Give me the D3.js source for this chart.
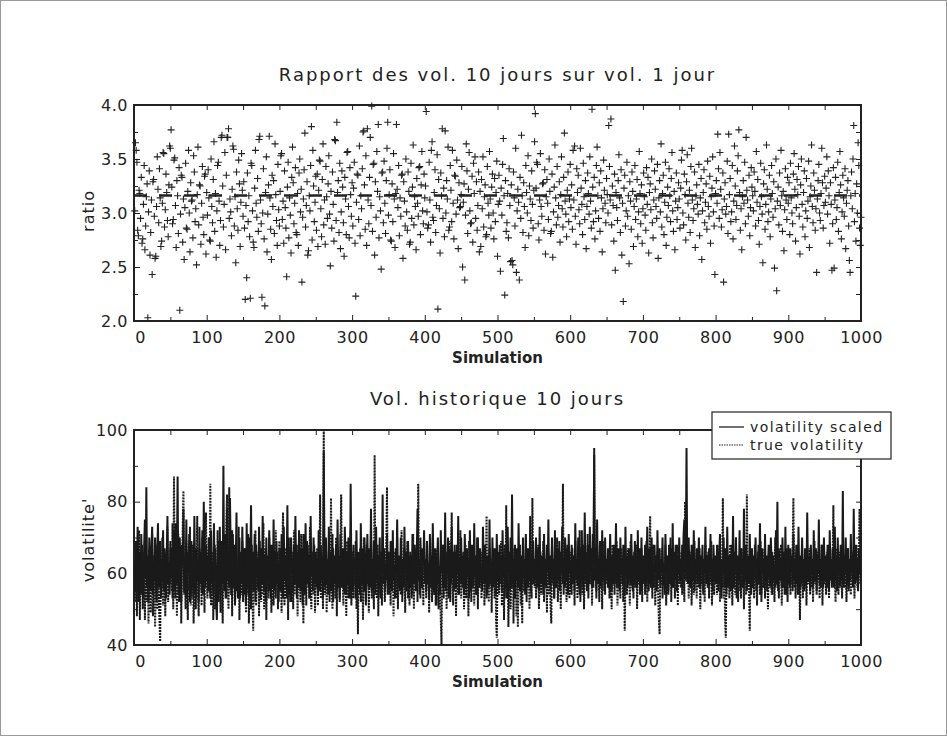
<!DOCTYPE html>
<html><head><meta charset="utf-8">
<script src="https://cdn.jsdelivr.net/npm/d3@7/dist/d3.min.js"></script>
<style>body{margin:0;background:#fff} text{font-family:"DejaVu Sans",sans-serif;fill:#222}</style>
</head><body><svg id="c" width="947" height="736"></svg>
<script>
const ratio = [
3.02,3.65,3.58,3.47,2.84,2.79,3.21,3.18,2.95,3.33,2.72,2.76,3.08,3.44,2.66,2.88,3.15,3.27,2.03,3.01,3.39,2.61,2.82,3.12,2.43,3.29,3.31,2.97,2.58,2.60,3.06,3.52,3.22,2.91,3.41,3.14,2.69,2.74,3.09,3.56,3.55,2.87,3.03,3.36,3.19,2.93,2.78,3.26,3.62,3.60,
3.77,3.24,2.90,2.94,3.49,3.51,3.07,2.68,3.30,3.16,2.81,3.42,2.10,2.99,3.35,3.33,2.73,3.13,2.57,3.05,3.46,2.86,2.85,3.20,3.58,3.00,2.64,3.28,3.11,3.12,2.77,3.53,3.38,2.92,3.04,2.52,3.17,3.61,2.89,3.26,3.25,2.71,3.09,3.43,2.96,2.80,3.34,3.36,2.62,3.19,
2.98,3.40,3.14,2.75,2.74,3.50,3.06,2.91,3.31,3.66,2.83,3.18,2.59,3.02,3.44,3.47,3.11,2.70,2.93,3.70,3.72,3.25,2.87,3.08,3.56,2.66,3.35,3.70,3.70,3.78,2.95,3.13,3.01,2.79,3.22,3.62,3.59,2.88,3.15,2.54,3.38,3.04,2.84,3.49,3.27,2.69,3.10,3.55,3.21,2.97,
3.29,2.86,2.20,3.07,2.40,3.37,2.92,3.16,2.78,2.21,3.46,3.44,3.02,2.73,2.68,3.23,3.58,3.09,2.96,3.32,2.83,3.68,3.71,3.12,2.90,2.22,3.00,3.41,2.76,2.14,3.19,3.52,2.64,2.99,3.26,3.71,3.14,2.85,2.57,3.35,3.06,3.30,2.81,3.64,3.17,2.93,2.70,3.45,3.03,2.88,
3.20,3.53,3.55,2.94,3.11,2.72,3.39,3.05,2.86,2.41,3.24,3.47,2.77,3.14,2.98,2.63,3.33,3.61,3.28,2.90,3.09,3.42,2.82,2.80,3.18,2.70,3.37,3.50,3.01,3.22,2.36,2.96,3.13,3.40,3.74,2.87,3.07,3.29,2.61,2.65,3.16,3.02,3.44,3.80,2.75,3.58,3.25,2.92,3.10,3.34,
2.84,3.36,2.69,3.21,3.49,3.48,3.04,2.78,3.31,3.64,2.89,3.12,2.71,3.43,3.15,2.95,3.27,3.53,2.99,2.51,3.20,2.86,3.38,3.08,2.74,3.68,3.67,2.93,3.84,3.19,3.30,2.82,3.46,2.67,3.01,3.39,3.24,2.91,2.60,3.33,3.13,2.80,3.56,3.57,3.06,2.77,3.42,3.17,2.97,3.28,
2.88,3.23,3.47,2.72,2.23,3.10,3.36,3.35,2.94,3.62,2.79,3.16,3.04,3.41,3.75,3.76,3.26,2.85,3.53,2.70,3.78,3.12,2.90,3.33,3.70,3.07,3.99,2.83,3.45,3.46,2.61,3.29,2.96,3.57,3.20,3.82,2.77,3.15,3.02,2.48,3.37,3.38,2.91,3.48,3.09,2.81,3.30,3.60,3.84,2.98,
3.17,3.40,2.75,2.74,3.27,2.92,3.55,3.13,2.68,3.18,3.82,3.22,3.05,3.44,2.79,3.14,2.97,3.35,3.36,2.58,3.29,3.11,2.88,3.50,3.01,2.84,3.38,3.20,2.71,2.73,3.46,2.95,3.24,3.63,2.89,3.15,3.06,2.66,3.32,3.09,2.97,3.42,3.43,2.80,3.26,3.57,3.02,2.90,3.36,3.14,
3.25,3.94,3.01,2.86,2.89,3.47,3.12,2.73,3.58,3.66,2.96,2.93,3.19,3.40,2.82,3.07,3.54,2.11,3.31,3.04,2.63,3.37,3.16,3.78,2.95,3.23,2.78,3.76,3.00,3.30,3.13,3.61,2.84,2.87,3.44,3.21,2.92,3.58,3.09,2.76,3.35,3.34,2.99,3.49,3.12,2.67,3.28,3.05,3.06,3.17,
3.43,2.50,3.10,3.27,2.38,2.98,3.64,3.39,2.81,3.22,3.56,3.02,2.90,2.91,3.34,2.73,3.46,3.18,3.52,2.95,3.29,2.84,3.07,3.38,2.64,3.20,2.69,3.31,3.04,3.52,2.87,3.15,3.26,2.78,2.80,3.43,3.09,2.98,3.57,3.13,2.86,3.24,3.36,3.00,2.76,3.32,2.92,3.19,3.48,2.60,
3.08,3.35,3.11,2.46,3.23,2.98,3.45,3.69,3.16,2.24,3.30,2.83,2.91,3.18,2.77,3.41,3.07,2.55,3.26,2.56,2.52,3.38,3.14,2.88,3.60,2.45,3.02,3.22,3.10,2.38,3.33,2.95,3.72,3.16,2.82,3.28,3.06,2.68,3.44,3.19,3.00,3.53,2.79,3.25,3.13,2.93,3.39,3.08,2.86,3.21,
3.66,3.92,3.23,3.47,3.45,2.90,2.75,3.12,3.55,3.06,2.97,3.27,3.28,2.84,3.40,2.62,3.15,3.31,3.09,2.94,3.50,3.20,2.81,2.83,3.36,2.59,3.01,3.24,3.63,3.14,2.89,3.43,2.96,3.07,3.29,2.73,3.17,3.52,3.04,2.87,3.33,3.74,3.11,2.99,2.78,3.21,3.38,2.92,3.13,3.45,
3.05,3.26,2.85,3.58,3.12,3.62,2.97,2.71,3.41,3.19,3.35,3.03,2.90,3.60,3.23,3.08,2.80,3.46,3.15,2.94,3.30,2.67,3.06,3.37,3.18,2.99,3.52,3.11,2.86,3.96,3.24,2.92,3.33,2.76,3.02,3.44,3.61,3.16,2.95,3.28,2.83,3.39,3.14,2.64,3.04,3.49,3.21,3.09,2.91,3.32,
3.17,3.00,3.81,3.43,3.12,3.87,2.89,3.25,3.07,2.74,3.36,2.47,3.19,3.05,2.93,3.30,3.54,3.14,2.82,3.40,2.61,3.09,2.18,3.23,3.35,2.88,3.02,3.47,2.97,3.16,2.53,3.29,3.11,2.85,3.38,3.20,2.69,3.06,3.44,2.94,3.13,3.31,2.78,3.01,3.57,3.18,2.90,3.26,2.72,3.04,
3.37,3.15,2.98,2.84,3.42,3.08,3.33,2.63,3.19,3.27,3.03,3.50,2.91,2.77,3.12,3.39,3.22,3.06,2.95,3.45,2.58,3.14,3.30,3.01,3.64,2.87,3.18,3.35,2.80,3.10,3.47,2.70,2.96,3.24,3.07,3.41,3.16,2.92,3.32,3.56,3.02,2.83,3.20,2.66,3.11,3.37,2.94,3.05,3.28,3.13,
2.86,3.23,3.49,3.58,3.00,2.89,3.36,3.17,2.75,3.29,3.54,3.09,2.96,3.21,2.82,3.43,3.60,3.12,2.93,3.04,3.38,2.68,3.16,3.26,3.08,2.99,3.45,2.79,3.14,3.32,2.57,3.02,3.19,3.40,2.91,3.10,3.27,2.85,3.48,3.06,2.97,3.34,2.72,3.15,3.23,3.52,3.01,2.88,2.43,3.18,
3.30,3.09,3.73,3.41,2.95,3.56,3.22,2.87,3.03,3.37,2.36,3.13,3.28,2.99,3.06,3.48,2.81,3.73,3.17,3.32,2.92,3.01,3.44,2.76,3.11,3.62,3.25,2.94,3.07,3.39,3.53,3.77,3.19,2.84,3.04,2.66,3.15,3.30,3.09,3.47,2.90,3.70,3.21,3.12,2.97,3.35,2.79,3.05,3.42,3.24,
3.16,3.02,3.38,3.20,2.88,3.57,3.10,3.31,2.93,2.71,3.06,3.46,3.15,2.99,2.54,3.27,3.40,2.85,3.08,3.63,3.22,2.92,3.01,3.35,2.78,3.13,3.44,3.18,2.96,3.29,2.49,3.04,3.50,2.28,3.11,3.24,2.89,3.37,3.07,3.58,3.16,2.83,3.20,2.65,3.03,3.41,3.12,2.94,3.33,3.09,
3.28,2.80,3.46,3.14,3.00,2.90,3.36,3.55,3.22,2.74,3.05,3.31,3.17,3.43,2.97,2.62,3.26,3.50,3.08,2.87,3.19,3.39,2.78,3.02,3.32,2.95,3.11,3.48,2.68,3.15,3.25,3.63,3.06,2.91,3.37,3.21,2.84,3.04,2.45,3.13,3.30,3.45,3.00,2.93,3.18,3.60,3.28,2.86,3.07,3.34,
3.10,3.23,3.52,2.99,3.39,3.16,2.72,3.28,3.08,2.47,2.90,3.42,2.49,3.12,3.33,2.94,3.05,3.47,2.83,3.19,3.57,3.26,2.76,3.01,3.35,3.14,2.97,3.41,2.67,3.09,3.21,3.30,2.88,2.56,2.45,3.16,3.38,3.04,3.50,3.81,2.92,3.18,2.74,3.27,3.00,3.65,3.44,2.86,2.70,2.96
];
const volScaled = [
62,55,69,58,73,52,66,60,54,71,57,64,53,68,75,59,84,56,65,52,70,61,55,67,73,54,63,58,70,57,52,66,74,56,62,69,53,64,58,72,55,67,60,53,65,76,57,63,54,69,
59,67,53,72,60,55,74,57,65,87,54,61,70,56,52,68,62,78,55,64,58,75,53,66,60,71,52,63,69,56,62,54,76,61,53,67,58,64,52,73,59,66,55,72,54,80,61,56,68,58,
65,55,70,59,53,72,57,63,54,74,58,67,52,47,61,69,56,73,54,62,66,57,90,55,71,60,53,78,58,64,56,81,67,54,72,59,56,68,52,64,77,55,62,58,70,53,66,57,73,60,
54,67,59,51,74,56,63,70,53,62,79,57,66,55,60,71,52,68,59,64,55,73,61,53,67,57,76,60,55,65,52,70,58,62,55,72,64,53,68,60,56,75,58,66,53,69,57,63,52,67,
60,55,71,63,53,73,58,65,56,62,79,54,67,59,52,70,60,64,55,68,57,76,62,53,66,56,72,60,55,67,58,51,71,63,54,74,57,62,68,56,65,53,76,59,63,55,70,60,57,66,
56,64,54,72,60,55,68,58,65,53,94,61,56,70,57,64,54,73,59,66,55,62,71,52,65,58,57,68,55,75,60,64,53,71,58,56,67,62,55,73,63,54,66,57,70,60,53,85,61,58,
55,68,60,64,53,72,58,56,66,62,54,74,57,67,60,55,70,63,52,62,71,59,56,67,60,78,55,64,57,69,62,54,73,58,65,56,62,70,53,64,60,82,57,67,55,63,58,71,54,66,
60,56,69,63,55,72,58,62,53,67,60,75,56,65,59,55,70,62,54,64,57,73,60,66,55,62,69,58,56,65,63,53,71,60,57,68,62,55,66,78,58,64,54,70,60,56,67,62,72,57,
64,55,69,58,62,53,71,60,65,56,74,62,55,67,59,51,64,70,57,62,54,72,60,65,56,68,58,77,55,64,60,70,53,62,67,57,73,59,64,55,68,62,56,66,60,76,54,63,58,70,
57,65,60,54,71,62,56,67,59,63,53,72,60,55,68,62,57,74,59,65,54,63,70,60,56,67,58,62,55,73,64,57,68,60,53,65,62,56,75,59,63,55,70,60,57,67,62,54,71,58,
62,56,68,60,65,55,72,59,64,53,67,62,56,73,60,65,55,70,58,82,57,64,54,68,62,58,67,56,74,60,55,65,62,57,70,59,64,54,71,60,56,67,62,58,76,55,65,60,69,57,
64,58,70,56,62,67,55,73,60,57,65,62,54,71,59,64,56,68,60,75,57,65,55,62,70,58,64,53,72,60,56,67,62,58,69,55,65,60,73,57,64,56,70,62,58,67,54,71,60,63,
56,68,62,58,65,55,74,60,64,57,70,59,54,67,62,72,56,65,60,77,58,64,55,68,62,57,73,60,66,56,71,62,93,58,67,55,75,60,64,57,69,62,56,72,59,65,55,70,60,64,
58,67,56,62,71,60,55,65,58,68,57,63,74,56,62,67,58,55,70,60,64,57,68,62,54,73,59,65,56,62,67,60,57,71,62,55,65,58,69,60,64,56,72,58,62,67,55,70,60,57,
65,58,68,56,62,73,60,55,67,64,57,70,58,62,56,68,60,65,55,72,62,58,67,56,64,60,70,57,62,54,71,60,65,58,55,68,62,57,67,60,74,56,64,58,68,62,55,65,60,70,
58,64,56,68,62,71,75,60,65,95,62,57,70,60,65,56,68,62,58,72,55,64,60,67,57,62,70,58,56,65,62,68,55,64,60,73,57,65,62,56,67,60,71,58,64,55,68,62,58,65,
57,68,62,55,65,71,59,53,64,60,70,56,62,67,54,73,60,57,65,62,55,68,59,76,56,64,60,70,53,65,62,58,72,55,67,60,64,56,78,58,62,68,55,65,60,57,71,62,54,67,
60,56,65,62,70,55,64,58,68,57,74,62,54,67,60,64,56,71,58,65,55,62,68,60,57,70,63,54,65,58,62,56,72,60,80,55,67,62,58,64,56,70,60,65,54,73,58,64,57,68,
62,56,67,60,65,55,71,58,64,57,68,62,54,73,60,65,56,62,70,58,64,55,67,60,57,77,62,58,65,55,68,60,64,56,72,58,62,67,55,65,60,75,57,64,58,68,62,56,70,60,
58,65,56,68,62,55,72,60,64,57,67,62,56,73,58,65,55,70,60,64,57,68,62,58,83,56,65,60,70,57,62,67,55,64,58,71,60,65,56,78,62,57,68,58,64,55,67,60,65,58
];
const trueVol = [
61,52,69,48,65,55,72,47,63,54,68,50,58,66,47,70,57,52,64,46,67,55,49,62,71,48,54,65,45,58,68,50,61,53,47,41,64,56,70,51,59,66,48,62,55,73,52,60,57,67,
64,55,74,50,87,58,53,68,48,62,71,52,57,66,46,61,72,83,54,60,50,69,57,47,64,55,73,51,62,53,68,46,59,66,50,63,76,54,48,67,57,62,51,70,56,60,49,68,77,58,
53,63,70,55,85,51,60,66,47,58,68,50,62,55,72,52,59,65,49,69,56,46,63,60,67,53,75,82,57,50,84,62,54,66,48,71,56,60,51,68,57,63,53,73,47,60,65,54,69,52,
60,55,67,49,63,54,71,46,59,65,50,68,53,44,62,57,72,51,63,56,66,48,69,58,52,62,54,74,50,60,67,47,58,65,53,70,56,62,49,68,59,51,63,55,72,57,66,50,60,69,
55,64,49,68,77,57,51,62,67,53,60,47,70,56,63,52,66,59,50,72,54,62,57,68,48,64,56,60,52,71,58,63,46,67,55,60,51,69,57,63,53,73,56,50,66,60,54,68,49,62,
57,67,51,62,56,82,53,64,60,50,100,58,54,68,49,63,57,66,52,60,81,56,50,67,59,63,53,70,48,62,56,65,52,68,82,57,60,51,66,54,62,48,69,58,53,63,56,72,51,60,
66,53,62,57,69,50,60,43,64,56,67,52,59,63,47,70,55,60,51,68,57,63,49,66,56,72,53,62,58,50,93,56,64,53,68,48,60,63,54,66,51,70,57,62,52,59,67,84,56,63,
54,62,51,68,58,63,48,66,56,60,53,70,50,62,57,64,54,72,52,60,56,67,49,63,58,69,53,60,51,66,57,62,54,71,50,64,60,56,68,52,85,58,63,53,66,56,62,51,69,57,
60,53,66,57,63,49,68,56,62,52,70,58,54,64,51,60,67,56,50,62,57,47,40,63,68,53,60,56,66,50,59,64,54,69,52,62,77,57,51,66,56,63,48,68,58,54,64,57,72,53,
62,56,66,50,60,68,53,59,64,48,69,57,63,52,60,56,67,51,62,58,54,70,50,64,60,56,66,53,62,57,68,51,59,63,76,54,60,52,67,57,63,49,64,56,60,53,66,47,42,58,
66,54,62,57,69,51,60,64,47,68,56,79,53,63,45,59,66,50,62,56,67,46,60,53,64,48,58,45,63,56,68,51,60,46,66,55,62,57,70,52,60,56,64,50,69,58,53,81,57,63,
56,64,53,62,58,68,50,60,66,54,63,57,69,52,60,56,64,49,67,58,54,62,51,46,68,57,63,53,64,56,60,70,52,62,57,66,50,63,58,85,54,64,56,60,52,68,57,63,53,66,
60,54,67,57,63,51,69,58,62,53,64,56,72,52,60,63,54,68,50,62,57,66,56,71,53,63,60,57,67,51,62,56,95,58,64,53,68,57,62,52,66,56,60,50,69,58,63,54,64,57,
62,56,66,53,60,64,50,68,57,62,54,64,58,69,51,60,56,63,53,67,57,60,52,64,44,58,63,54,67,57,62,51,69,56,60,63,53,66,58,56,68,50,62,57,64,54,60,67,52,63,
57,64,54,62,69,52,60,57,66,76,56,62,53,68,58,63,51,60,56,66,54,47,43,62,57,67,53,63,58,56,68,51,60,64,54,62,57,70,52,63,56,60,66,53,62,58,68,51,64,57,
62,56,66,54,60,64,52,80,58,63,57,68,53,62,56,66,51,60,63,54,69,57,62,53,64,58,56,67,50,62,57,64,54,60,52,68,58,63,56,66,53,62,57,69,51,60,64,54,63,57,
60,54,64,57,68,52,62,58,56,81,53,63,47,42,60,66,56,62,53,68,57,63,51,60,56,66,54,70,58,62,52,64,57,60,53,67,56,62,50,63,58,54,82,60,64,56,44,62,57,66,
56,63,53,68,58,62,51,66,57,60,54,69,52,63,58,56,67,53,62,57,64,50,60,68,56,63,54,66,58,62,52,70,57,60,56,64,53,63,58,68,51,62,56,66,57,60,54,67,52,63,
58,64,54,62,57,67,81,56,63,53,66,58,60,54,64,47,62,57,68,53,63,58,56,66,51,62,60,57,67,54,63,56,64,52,60,69,57,62,54,66,58,63,53,60,56,68,51,62,57,64,
60,54,66,57,62,53,68,58,63,56,64,79,57,60,52,67,58,62,54,66,56,63,60,53,68,57,62,56,64,52,60,67,56,63,58,54,66,60,57,64,53,62,58,68,56,63,60,78,57,62
];
const ratioReference = 3.162;
const xTicks = [0,100,200,300,400,500,600,700,800,900,1000];
const xMinor = [50,150,250,350,450,550,650,750,850,950];
const ratioTicks = [2.0,2.5,3.0,3.5,4.0];
const ratioMinor = [2.25,2.75,3.25,3.75];
const volTicks = [40,60,80,100];
const volMinor = [50,70,90];
const seriesNames = ["volatility scaled","true volatility"];

const svg = d3.select("#c");
svg.append("rect").attr("x",0.5).attr("y",0.5).attr("width",946).attr("height",735)
  .attr("fill","#fff").attr("stroke","#999").attr("stroke-width",1);

const L = 134, R = 861;
const x = d3.scaleLinear().domain([0,1000]).range([L,R]);

function panel(top, bottom, yDomain, ticks, minor, fmt, title, titleY, ylabel, ylabelY) {
  const y = d3.scaleLinear().domain(yDomain).range([bottom, top]);
  const g = svg.append("g");
  const bx = g.append("g").attr("transform",`translate(0,${bottom})`)
    .call(d3.axisBottom(x).tickValues(xTicks).tickFormat(d3.format("d")).tickSizeInner(-6).tickSizeOuter(0).tickPadding(8));
  bx.selectAll("text").attr("font-size",16).attr("fill","#222").attr("dy","0.9em").attr("letter-spacing",0.5);
  bx.selectAll("text").filter(d=>d===0).attr("dx",6);
  g.append("g").attr("transform",`translate(0,${bottom})`)
    .call(d3.axisBottom(x).tickValues(xMinor).tickFormat("").tickSizeInner(-4).tickSizeOuter(0));
  g.append("g").attr("transform",`translate(0,${top})`)
    .call(d3.axisTop(x).tickValues(xTicks.concat(xMinor)).tickFormat("").tickSizeInner(-5).tickSizeOuter(0));
  const ly = g.append("g").attr("transform",`translate(${L},0)`)
    .call(d3.axisLeft(y).tickValues(ticks).tickFormat(fmt).tickSizeInner(-6).tickSizeOuter(0).tickPadding(6));
  ly.selectAll("text").attr("font-size",16).attr("fill","#222").attr("letter-spacing",0.5);
  g.append("g").attr("transform",`translate(${L},0)`)
    .call(d3.axisLeft(y).tickValues(minor).tickFormat("").tickSizeInner(-4).tickSizeOuter(0));
  g.append("g").attr("transform",`translate(${R},0)`)
    .call(d3.axisRight(y).tickValues(ticks.concat(minor)).tickFormat("").tickSizeInner(-5).tickSizeOuter(0));
  g.selectAll(".domain").remove();
  g.selectAll(".tick line").attr("stroke","#222").attr("stroke-width",1);
  svg.append("rect").attr("x",L).attr("y",top).attr("width",R-L).attr("height",bottom-top)
    .attr("fill","none").attr("stroke","#222").attr("stroke-width",2);
  svg.append("text").attr("x",(L+R)/2).attr("y",titleY).attr("text-anchor","middle")
    .attr("font-size",18).attr("letter-spacing",2).text(title);
  svg.append("text").attr("x",(L+R)/2).attr("y",bottom+42).attr("text-anchor","middle")
    .attr("font-size",15).attr("font-weight","bold").text("Simulation");
  svg.append("text").attr("transform",`translate(94,${ylabelY}) rotate(-90)`).attr("text-anchor","middle")
    .attr("font-size",16).attr("letter-spacing",1).text(ylabel);
  return y;
}

// Top panel
const yR = panel(105, 321, [2,4], ratioTicks, ratioMinor, d3.format(".1f"),
  "Rapport des vol. 10 jours sur vol. 1 jour", 81, "ratio", 211);
svg.append("line").attr("x1",x(0)).attr("x2",x(1000)).attr("y1",yR(ratioReference)).attr("y2",yR(ratioReference))
  .attr("stroke","#222").attr("stroke-width",2.5).attr("stroke-dasharray","13,12");
svg.append("g").selectAll("path").data(ratio).join("path")
  .attr("d",(d,i)=>{const cx=x(i+1), cy=yR(d); return `M${cx-3.5},${cy}h7M${cx},${cy-3.5}v7`;})
  .attr("stroke","#222").attr("stroke-width",1.1).attr("fill","none");

// Bottom panel
const yV = panel(430, 645, [40,100], volTicks, volMinor, d3.format("d"),
  "Vol. historique 10 jours", 405, "volatilite'", 540);
svg.append("clipPath").attr("id","clipV").append("rect").attr("x",L).attr("y",430).attr("width",R-L).attr("height",215);
const line = d3.line().x((d,i)=>x(i+1)).y(d=>yV(d));
svg.append("path").datum(volScaled).attr("d",line).attr("clip-path","url(#clipV)")
  .attr("fill","none").attr("stroke","#1a1a1a").attr("stroke-width",2);
svg.append("path").datum(trueVol).attr("d",line).attr("clip-path","url(#clipV)")
  .attr("fill","none").attr("stroke","#1a1a1a").attr("stroke-width",2).attr("stroke-dasharray","2,1");

// Legend
const lg = svg.append("g");
lg.append("rect").attr("x",712).attr("y",412).attr("width",179).attr("height",47)
  .attr("fill","#fff").attr("stroke","#222").attr("stroke-width",1.2);
lg.append("line").attr("x1",719).attr("x2",744).attr("y1",427).attr("y2",427).attr("stroke","#222").attr("stroke-width",1.3);
lg.append("line").attr("x1",719).attr("x2",744).attr("y1",445).attr("y2",445).attr("stroke","#222").attr("stroke-width",1.2).attr("stroke-dasharray","1.5,1");
lg.append("text").attr("x",750).attr("y",432).attr("font-size",14).attr("letter-spacing",1.4).text(seriesNames[0]);
lg.append("text").attr("x",750).attr("y",450).attr("font-size",14).attr("letter-spacing",1.4).text(seriesNames[1]);
</script></body></html>
